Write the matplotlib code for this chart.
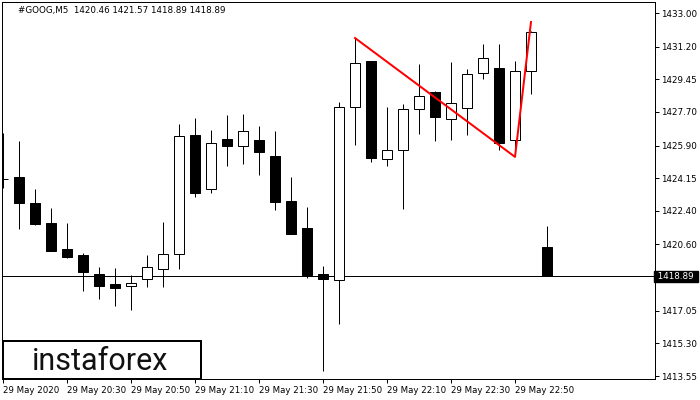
import matplotlib
matplotlib.use("Agg")
import matplotlib.pyplot as plt
from matplotlib.patches import Rectangle
import matplotlib.transforms as mtransforms

## M5 candles, 20:10 .. 23:00
opens = [1424.11, 1424.21, 1422.82, 1421.75, 1420.36, 1420.03, 1419.02, 1418.48,
         1418.37, 1418.75, 1419.28, 1420.09, 1426.47, 1423.57, 1426.25, 1425.88,
         1426.20, 1425.34, 1422.93, 1421.48, 1419.02, 1418.69, 1427.97, 1430.43,
         1425.18, 1425.66, 1427.86, 1428.77, 1427.32, 1427.91, 1429.79, 1430.06,
         1426.20, 1429.90, 1420.46]
highs = [1426.57, 1426.14, 1423.57, 1422.55, 1421.75, 1420.14, 1419.39, 1419.34,
         1418.96, 1420.03, 1421.80, 1427.05, 1427.38, 1426.73, 1427.54, 1427.59,
         1426.95, 1426.68, 1424.21, 1422.61, 1419.44, 1428.23, 1431.66, 1430.43,
         1427.97, 1428.13, 1430.27, 1428.82, 1430.38, 1430.00, 1431.34, 1431.34,
         1430.43, 1432.04, 1421.57]
lows = [1423.62, 1421.43, 1421.64, 1420.25, 1419.87, 1418.11, 1417.68, 1417.30,
        1417.09, 1418.32, 1418.32, 1419.28, 1423.14, 1423.36, 1424.80, 1424.91,
        1424.32, 1422.45, 1421.16, 1418.80, 1413.82, 1416.34, 1425.93, 1425.02,
        1424.80, 1422.50, 1426.52, 1426.14, 1426.20, 1426.47, 1429.47, 1425.66,
        1425.72, 1428.66, 1418.89]
closes = [1424.11, 1422.82, 1421.70, 1420.25, 1419.93, 1419.12, 1418.37, 1418.27,
          1418.53, 1419.39, 1420.09, 1426.41, 1423.36, 1426.04, 1425.88, 1426.68,
          1425.55, 1422.87, 1421.16, 1418.96, 1418.75, 1427.97, 1430.32, 1425.23,
          1425.66, 1427.86, 1428.56, 1427.43, 1428.18, 1429.73, 1430.59, 1426.04,
          1429.90, 1431.99, 1418.89]

time_idx = [0, 4, 8, 12, 16, 20, 24, 28, 32]
time_labels = ['29 May 2020', '29 May 20:30', '29 May 20:50', '29 May 21:10',
               '29 May 21:30', '29 May 21:50', '29 May 22:10', '29 May 22:30',
               '29 May 22:50']
price_ticks = [1433.00, 1431.20, 1429.45, 1427.70, 1425.90, 1424.15,
               1422.40, 1420.60, 1417.05, 1415.30, 1413.55]
last_price = 1418.89
title = '#GOOG,M5  1420.46 1421.57 1418.89 1418.89'

## red pattern line
pattern_idx = [22, 32, 33]
pattern_price = [1431.66, 1425.29, 1432.52]

px = 0.72  # one pixel in points at dpi 100

fig = plt.figure(figsize=(7, 4), dpi=100)
ax = fig.add_axes([2 / 700, 21 / 400, 653 / 700, 377 / 400])

for i in range(len(opens)):
    o, h, l, c = opens[i], highs[i], lows[i], closes[i]
    ax.vlines(i, l, h, color='black', linewidth=px, zorder=2)
    bottom = min(o, c)
    height = max(abs(c - o), 0.02)
    face = 'white' if c > o else 'black'
    ax.add_patch(Rectangle((i - 0.33, bottom), 0.66, height, facecolor=face,
                           edgecolor='black', linewidth=px, zorder=3))

ax.axhline(last_price, color='black', linewidth=px, zorder=1)
ax.plot(pattern_idx, pattern_price, color='#ff0000', linewidth=2 * px, zorder=4)

ax.set_xlim(-0.0625, 40.75)
ax.set_ylim(1413.39, 1433.59)

for s in ax.spines.values():
    s.set_linewidth(px)

ax.yaxis.tick_right()
ax.set_yticks(price_ticks)
ax.set_yticklabels(['%.2f' % p for p in price_ticks])
ax.tick_params(axis='y', direction='out', length=3, width=px, pad=1.5,
               labelsize=6.3, colors='black')
ax.set_xticks(time_idx)
ax.set_xticklabels(time_labels, ha='left')
ax.tick_params(axis='x', direction='out', length=3, width=px, pad=2,
               labelsize=6.2, colors='black')

## current price marker on the right scale
trans = mtransforms.blended_transform_factory(ax.transAxes, ax.transData)
ax.text(1.0, last_price, ' 1418.89 ', transform=trans, ha='left', va='center',
        fontsize=6.3, color='white', clip_on=False,
        bbox=dict(boxstyle='square,pad=0.15', facecolor='black', edgecolor='black'))

fig.text(18 / 700, 1 - 11 / 400, title, fontsize=6.3, va='center', ha='left')

## logo box
fig.patches.append(Rectangle((3 / 700, 21 / 400), 198 / 700, 38 / 400,
                             transform=fig.transFigure, facecolor='white',
                             edgecolor='black', linewidth=2 * px, zorder=5))
fig.text(100 / 700, 1 - 361 / 400, 'instaforex', fontsize=22, family='Roboto',
         color='#111111', ha='center', va='center', zorder=6)

fig.savefig('out.png', dpi=100)
